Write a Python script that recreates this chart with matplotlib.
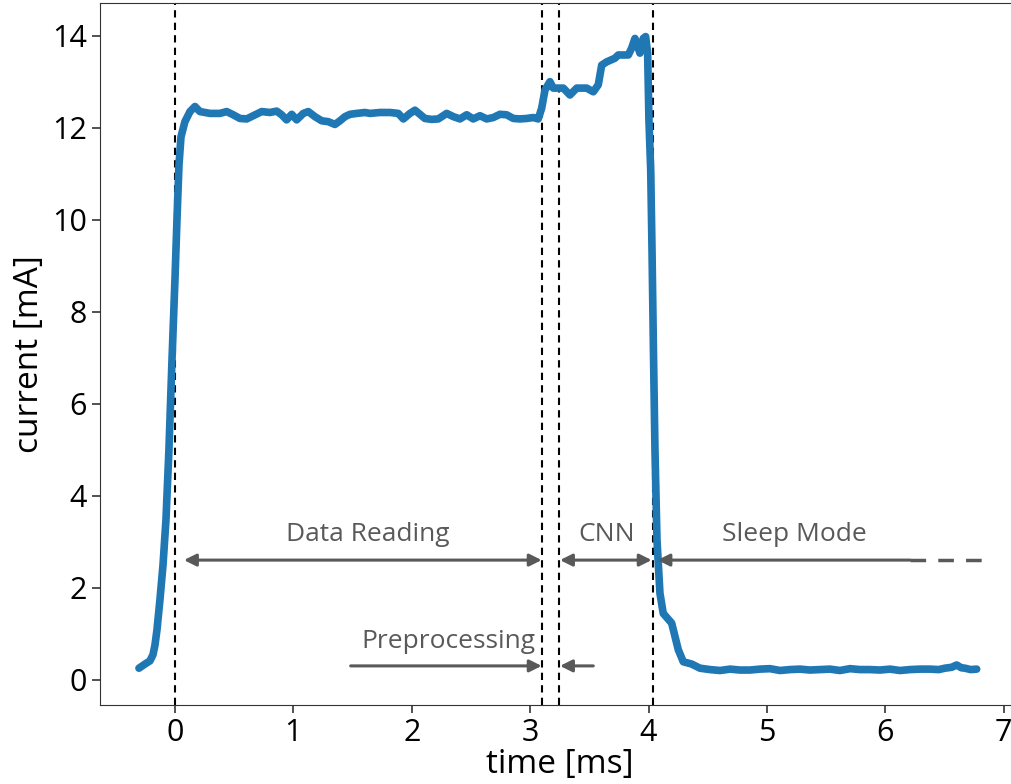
import matplotlib
matplotlib.use("Agg")
import matplotlib.pyplot as plt

# ---- data ----
time_ms = [-0.304, -0.253, -0.211, -0.186, -0.169, -0.152, -0.127, -0.101, -0.076, -0.051,
           -0.025, 0.0, 0.017, 0.034, 0.051, 0.084, 0.127, 0.169, 0.211, 0.296,
           0.380, 0.437, 0.492, 0.549, 0.606, 0.661, 0.733, 0.802, 0.859, 0.901,
           0.943, 0.986, 1.028, 1.084, 1.126, 1.182, 1.239, 1.295, 1.351, 1.394,
           1.436, 1.478, 1.535, 1.605, 1.647, 1.731, 1.816, 1.886, 1.929, 1.985,
           2.027, 2.069, 2.111, 2.168, 2.224, 2.295, 2.351, 2.407, 2.464, 2.519,
           2.576, 2.633, 2.688, 2.745, 2.801, 2.858, 2.914, 2.970, 3.026, 3.068,
           3.097, 3.125, 3.167, 3.195, 3.280, 3.336, 3.393, 3.477, 3.533, 3.575,
           3.604, 3.646, 3.716, 3.744, 3.829, 3.857, 3.885, 3.913, 3.927, 3.955,
           3.975, 3.992, 4.003, 4.018, 4.029, 4.041, 4.054, 4.071, 4.096, 4.124,
           4.195, 4.251, 4.293, 4.364, 4.434, 4.519, 4.604, 4.688, 4.772, 4.856,
           4.940, 5.025, 5.110, 5.194, 5.278, 5.363, 5.447, 5.532, 5.616, 5.701,
           5.785, 5.870, 5.955, 6.039, 6.123, 6.208, 6.292, 6.377, 6.450, 6.503,
           6.560, 6.602, 6.640, 6.672, 6.720, 6.771]
current_mA = [0.25, 0.34, 0.41, 0.54, 0.75, 1.08, 1.73, 2.49, 3.47, 4.99,
              6.95, 8.69, 10.00, 11.19, 11.80, 12.13, 12.35, 12.46, 12.35, 12.31,
              12.31, 12.35, 12.28, 12.20, 12.19, 12.26, 12.35, 12.33, 12.36, 12.28,
              12.17, 12.29, 12.17, 12.31, 12.35, 12.24, 12.15, 12.13, 12.07, 12.15,
              12.24, 12.29, 12.31, 12.33, 12.31, 12.33, 12.33, 12.31, 12.19, 12.31,
              12.38, 12.29, 12.20, 12.18, 12.19, 12.31, 12.24, 12.19, 12.28, 12.19,
              12.26, 12.19, 12.22, 12.29, 12.28, 12.20, 12.19, 12.20, 12.22, 12.19,
              12.42, 12.82, 13.00, 12.86, 12.86, 12.71, 12.86, 12.86, 12.78, 12.93,
              13.36, 13.43, 13.51, 13.58, 13.58, 13.73, 13.94, 13.73, 13.62, 13.94,
              13.98, 13.62, 12.17, 11.08, 9.34, 7.17, 4.99, 3.04, 1.88, 1.44,
              1.23, 0.65, 0.39, 0.34, 0.25, 0.22, 0.20, 0.23, 0.21, 0.21,
              0.23, 0.24, 0.20, 0.22, 0.23, 0.21, 0.22, 0.23, 0.20, 0.24,
              0.22, 0.22, 0.21, 0.23, 0.20, 0.22, 0.23, 0.23, 0.22, 0.25,
              0.27, 0.32, 0.26, 0.25, 0.22, 0.23]

phase_bounds = [0.0, 3.10, 3.241, 4.04]

phase_labels = ["Data Reading", "CNN", "Sleep Mode", "Preprocessing"]
label_x = [1.63, 3.65, 5.23, 2.31]
label_y = [3.15, 3.15, 3.15, 0.83]

xticks = [0, 1, 2, 3, 4, 5, 6, 7]
yticks = [0, 2, 4, 6, 8, 10, 12, 14]

# ---- figure ----
fig = plt.figure(figsize=(10.12, 7.84), dpi=100)
ax = fig.add_axes([100 / 1012, 79 / 784, 920 / 1012, 702 / 784])

ax.plot(time_ms, current_mA, color="#1f77b4", lw=5.5, solid_joinstyle="round",
        solid_capstyle="round", zorder=3)

for xb in phase_bounds:
    ax.axvline(xb, color="black", ls=(0, (3.5, 2.5)), lw=1.5, zorder=2)

gray = "#595959"
akw = dict(arrowstyle="<|-|>", color=gray, lw=2.2, mutation_scale=18, shrinkA=0, shrinkB=0)
akw1 = dict(arrowstyle="-|>", color=gray, lw=2.2, mutation_scale=18, shrinkA=0, shrinkB=0)
ay = 2.6
ax.annotate("", xy=(3.097, ay), xytext=(0.076, ay), arrowprops=akw)
ax.annotate("", xy=(4.026, ay), xytext=(3.252, ay), arrowprops=akw)
ax.annotate("", xy=(4.075, ay), xytext=(6.208, ay), arrowprops=akw1)
ax.plot([6.208, 6.90], [ay, ay], color=gray, lw=2.5, ls=(0, (4.5, 3.5)))
py = 0.30
ax.annotate("", xy=(3.097, py), xytext=(1.484, py), arrowprops=akw1)
ax.annotate("", xy=(3.252, py), xytext=(3.533, py), arrowprops=akw1)

for lab, lx, ly in zip(phase_labels, label_x, label_y):
    ax.text(lx, ly, lab, ha="center", va="center", color=gray, fontsize=19,
            family="Open Sans")

ax.set_xlim(-0.633, (1020 - 175) / 118.4)
ax.set_ylim(-0.55, 14.71)
ax.set_xticks(xticks)
ax.set_yticks(yticks)
ax.tick_params(labelsize=22, length=6, width=1.2, colors="#333333", labelcolor="black")
for lbl in ax.get_xticklabels() + ax.get_yticklabels():
    lbl.set_family("Open Sans")
for s in ax.spines.values():
    s.set_color("#333333")
ax.set_xlabel("time [ms]", fontsize=24, family="Open Sans", labelpad=0)
ax.set_ylabel("current [mA]", fontsize=24, family="Open Sans", labelpad=4)

fig.savefig("out.png", dpi=100)
